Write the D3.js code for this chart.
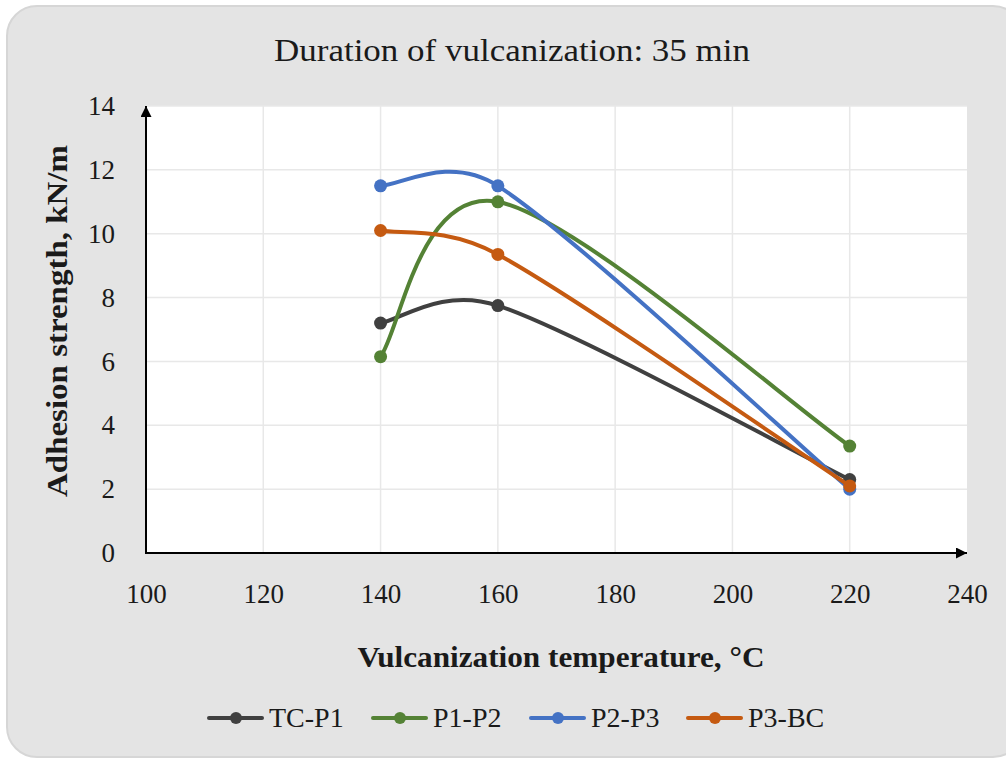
<!DOCTYPE html>
<html>
<head>
<meta charset="utf-8">
<script src="https://cdn.jsdelivr.net/npm/d3@7"></script>
<style>
  html, body { margin: 0; padding: 0; background: #ffffff; }
  svg { display: block; }
</style>
</head>
<body>
<svg id="chart" width="1006" height="761"></svg>
<script>
// Vulcanization temperatures (°C) at which adhesion was measured
const temperatures = [140, 160, 220];

// Adhesion strength, kN/m, for each layer interface
const tcP1 = [7.2, 7.75, 2.3];
const p1P2 = [6.15, 11.0, 3.35];
const p2P3 = [11.5, 11.5, 2.0];
const p3BC = [10.1, 9.35, 2.1];

const seriesNames = ["TC-P1", "P1-P2", "P2-P3", "P3-BC"];
const seriesValues = [tcP1, p1P2, p2P3, p3BC];
const seriesColors = ["#404040", "#548235", "#4472c4", "#c55a11"];

const xTicks = [100, 120, 140, 160, 180, 200, 220, 240];
const yTicks = [0, 2, 4, 6, 8, 10, 12, 14];

const titleText = "Duration of vulcanization: 35 min";
const xTitle = "Vulcanization temperature, \u00B0C";
const yTitle = "Adhesion strength, kN/m";

const svg = d3.select("#chart");
const W = 1006, H = 761;
const font = "'Liberation Serif', 'Times New Roman', serif";

// Rounded chart frame
svg.append("rect")
  .attr("x", 7).attr("y", 6)
  .attr("width", W + 10).attr("height", H - 10)
  .attr("rx", 30).attr("ry", 30)
  .attr("fill", "#e4e4e4")
  .attr("stroke", "#d6d6d6")
  .attr("stroke-width", 2);

const plot = { left: 146, right: 967, top: 106, bottom: 553 };

const x = d3.scaleLinear().domain([100, 240]).range([plot.left, plot.right]);
const y = d3.scaleLinear().domain([0, 14]).range([plot.bottom, plot.top]);

// Plot background
svg.append("rect")
  .attr("x", plot.left).attr("y", plot.top)
  .attr("width", plot.right - plot.left).attr("height", plot.bottom - plot.top)
  .attr("fill", "#ffffff");

// Gridlines
const grid = svg.append("g").attr("stroke", "#e8e8e8").attr("stroke-width", 1.5);
grid.selectAll("line.h").data(yTicks.filter(t => t > 0)).join("line")
  .attr("x1", plot.left).attr("x2", plot.right)
  .attr("y1", d => y(d)).attr("y2", d => y(d));
grid.selectAll("line.v").data(xTicks.filter(t => t > 100 && t < 240)).join("line")
  .attr("x1", d => x(d)).attr("x2", d => x(d))
  .attr("y1", plot.top).attr("y2", plot.bottom);

// Axes with tick labels (no tick marks, no domain path)
const xAxis = d3.axisBottom(x).tickValues(xTicks).tickSize(0).tickPadding(31);
const gx = svg.append("g").attr("transform", `translate(0,${plot.bottom})`).call(xAxis);
gx.select(".domain").remove();
gx.selectAll("text").attr("font-family", font).attr("font-size", 27).attr("fill", "#1a1a1a");

const yAxis = d3.axisLeft(y).tickValues(yTicks).tickSize(0).tickPadding(31);
const gy = svg.append("g").attr("transform", `translate(${plot.left},0)`).call(yAxis);
gy.select(".domain").remove();
gy.selectAll("text").attr("font-family", font).attr("font-size", 27).attr("fill", "#1a1a1a");

// Axis lines with arrowheads
svg.append("defs").append("marker")
  .attr("id", "arrow").attr("viewBox", "0 0 10 10")
  .attr("refX", 10).attr("refY", 5)
  .attr("markerUnits", "userSpaceOnUse")
  .attr("markerWidth", 16).attr("markerHeight", 11)
  .attr("orient", "auto")
  .append("path").attr("d", "M0,0 L10,5 L0,10 Z").attr("fill", "#000");

svg.append("line")
  .attr("x1", plot.left).attr("y1", plot.bottom)
  .attr("x2", plot.right).attr("y2", plot.bottom)
  .attr("stroke", "#000").attr("stroke-width", 2)
  .attr("marker-end", "url(#arrow)");
svg.append("line")
  .attr("x1", plot.left).attr("y1", plot.bottom + 1)
  .attr("x2", plot.left).attr("y2", plot.top)
  .attr("stroke", "#000").attr("stroke-width", 2)
  .attr("marker-end", "url(#arrow)");

// Spreadsheet-style smoothing: cubic Bezier segments whose handles follow
// (P[i+1] - P[i-1]) / 6, clamped to half the adjacent segment length.
function smoothPath(pts) {
  const p = d3.path();
  const dist = (a, b) => Math.hypot(b[0] - a[0], b[1] - a[1]);
  p.moveTo(pts[0][0], pts[0][1]);
  for (let i = 0; i < pts.length - 1; i++) {
    const a = pts[i], b = pts[i + 1];
    const seg = dist(a, b);
    // handle leaving a
    const a0 = i > 0 ? pts[i - 1] : a;
    let sA = Math.hypot(b[0] - a0[0], b[1] - a0[1]);
    let kA = sA > 0 ? Math.min(1 / 6, seg / (2 * sA)) : 0;
    const c1 = [a[0] + (b[0] - a0[0]) * kA, a[1] + (b[1] - a0[1]) * kA];
    // handle entering b
    const b1 = i + 2 < pts.length ? pts[i + 2] : b;
    let sB = Math.hypot(b1[0] - a[0], b1[1] - a[1]);
    let kB = sB > 0 ? Math.min(1 / 6, seg / (2 * sB)) : 0;
    const c2 = [b[0] - (b1[0] - a[0]) * kB, b[1] - (b1[1] - a[1]) * kB];
    p.bezierCurveTo(c1[0], c1[1], c2[0], c2[1], b[0], b[1]);
  }
  return p.toString();
}

// Series lines with point markers
const series = svg.append("g");
seriesValues.forEach((vals, k) => {
  const pts = vals.map((v, i) => [x(temperatures[i]), y(v)]);
  series.append("path")
    .attr("d", smoothPath(pts))
    .attr("fill", "none")
    .attr("stroke", seriesColors[k])
    .attr("stroke-width", 4)
    .attr("stroke-linecap", "round");
  series.selectAll(null).data(vals).join("circle")
    .attr("cx", (d, i) => x(temperatures[i]))
    .attr("cy", d => y(d))
    .attr("r", 6.5)
    .attr("fill", seriesColors[k]);
});

// Titles
svg.append("text")
  .attr("x", 512).attr("y", 61)
  .attr("text-anchor", "middle")
  .attr("font-family", font).attr("font-size", 32).attr("fill", "#1a1a1a")
  .attr("textLength", 476).attr("lengthAdjust", "spacingAndGlyphs")
  .text(titleText);

svg.append("text")
  .attr("x", 561).attr("y", 667)
  .attr("text-anchor", "middle")
  .attr("font-family", font).attr("font-size", 30).attr("font-weight", "bold").attr("fill", "#1a1a1a")
  .attr("textLength", 407).attr("lengthAdjust", "spacingAndGlyphs")
  .text(xTitle);

svg.append("text")
  .attr("transform", "translate(67,321) rotate(-90)")
  .attr("text-anchor", "middle")
  .attr("font-family", font).attr("font-size", 30).attr("font-weight", "bold").attr("fill", "#1a1a1a")
  .attr("textLength", 352).attr("lengthAdjust", "spacingAndGlyphs")
  .text(yTitle);

// Legend
const legendX = [209, 373, 531, 688];
const legend = svg.append("g");
seriesNames.forEach((name, k) => {
  const g = legend.append("g").attr("transform", `translate(${legendX[k]},718)`);
  g.append("line").attr("x1", 0).attr("x2", 53).attr("y1", 0).attr("y2", 0)
    .attr("stroke", seriesColors[k]).attr("stroke-width", 4).attr("stroke-linecap", "round");
  g.append("circle").attr("cx", 27).attr("cy", 0).attr("r", 6).attr("fill", seriesColors[k]);
  g.append("text").attr("x", 60).attr("y", 9)
    .attr("font-family", font).attr("font-size", 28).attr("fill", "#1a1a1a")
    .text(name);
});
</script>
</body>
</html>
